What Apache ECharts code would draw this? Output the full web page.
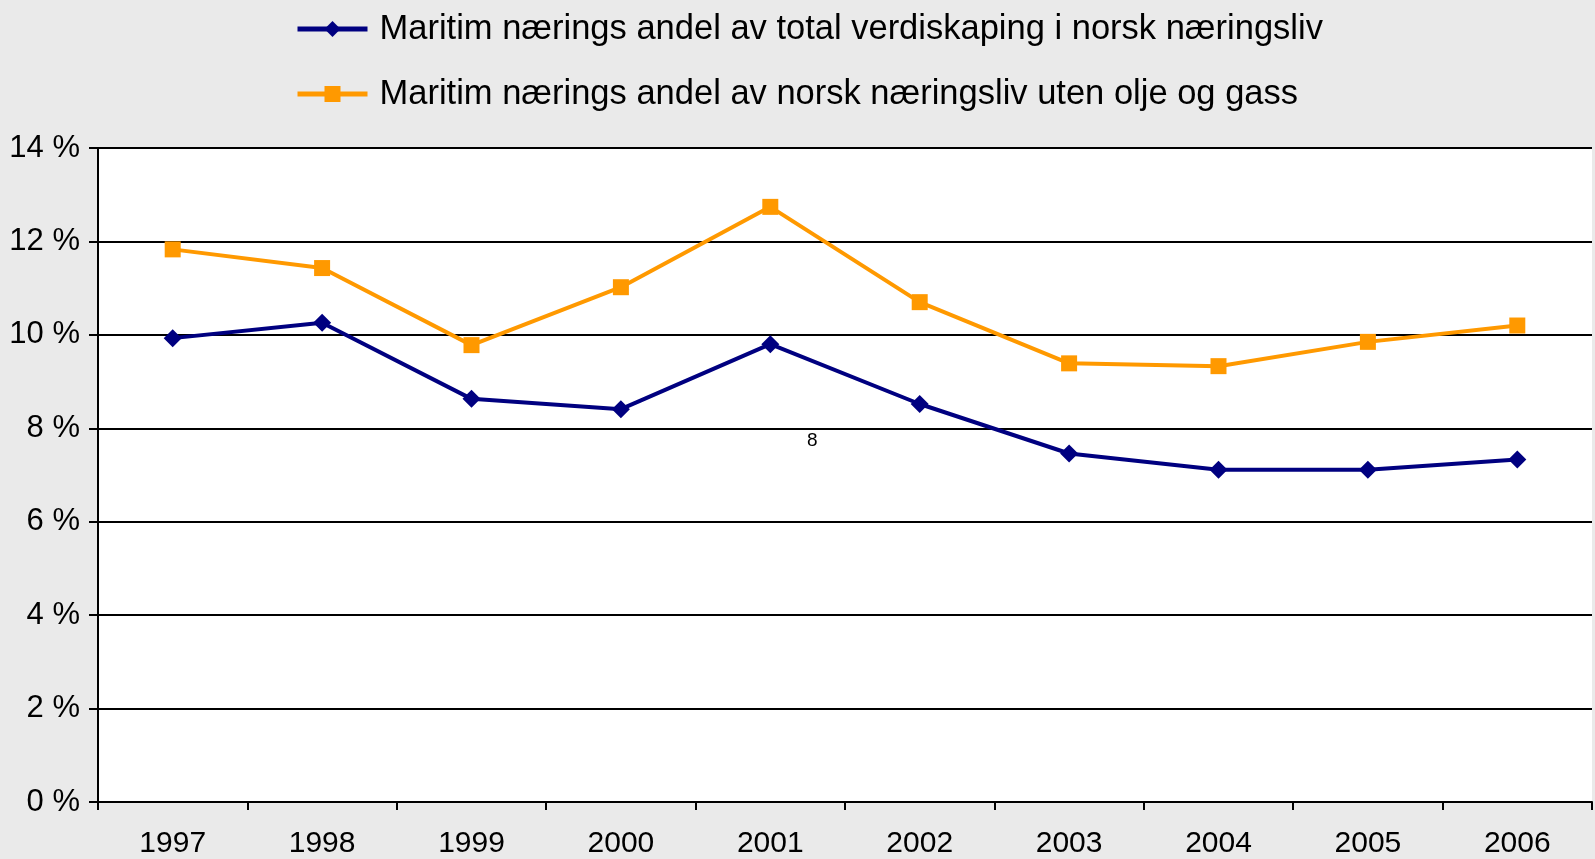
<!DOCTYPE html>
<html>
<head>
<meta charset="utf-8">
<script src="https://cdn.jsdelivr.net/npm/echarts@6/dist/echarts.min.js"></script>
<style>
html,body{margin:0;padding:0;background:#eaeaea;}
#c{width:1595px;height:859px;}
</style>
</head>
<body>
<div id="c"></div>
<script>
var years = ['1997','1998','1999','2000','2001','2002','2003','2004','2005','2006'];
var seriesNames = [
  'Maritim nærings andel av total verdiskaping i norsk næringsliv',
  'Maritim nærings andel av norsk næringsliv uten olje og gass'
];
var totalShare = [9.93, 10.26, 8.63, 8.41, 9.80, 8.52, 7.46, 7.11, 7.11, 7.33];
var exOilShare = [11.83, 11.43, 9.78, 11.02, 12.74, 10.70, 9.39, 9.33, 9.85, 10.20];
var yTicks = [0, 2, 4, 6, 8, 10, 12, 14];

var FONT = "'Liberation Sans', Arial, sans-serif";
var chart = echarts.init(document.getElementById('c'));
chart.setOption({
  backgroundColor: '#eaeaea',
  animation: false,
  legend: {
    orient: 'vertical',
    left: 295,
    top: 9,
    padding: 0,
    itemWidth: 70,
    itemHeight: 20,
    itemGap: 25,
    lineStyle: { width: 5 },
    textStyle: { fontFamily: FONT, fontSize: 34.5, color: '#000', lineHeight: 40, padding: [0,0,0,7] },
    data: seriesNames
  },
  grid: {
    left: 98, right: 3, top: 148, bottom: 57,
    show: true, backgroundColor: '#fff', borderWidth: 0
  },
  xAxis: {
    type: 'category',
    data: years,
    boundaryGap: true,
    axisLine: { lineStyle: { color: '#000', width: 2 } },
    axisTick: { show: true, interval: 0, length: 8, lineStyle: { color: '#000', width: 2 } },
    axisLabel: { fontFamily: FONT, fontSize: 30, color: '#000', margin: 27, interval: 0 }
  },
  yAxis: {
    type: 'value',
    min: yTicks[0], max: yTicks[yTicks.length - 1], interval: 2,
    axisLine: { show: true, lineStyle: { color: '#000', width: 2 } },
    axisTick: { show: true, length: 9, lineStyle: { color: '#000', width: 2 } },
    axisLabel: { fontFamily: FONT, fontSize: 31, color: '#000', margin: 18, formatter: '{value} %' },
    splitLine: { show: true, lineStyle: { color: '#000', width: 2 } }
  },
  series: [
    {
      name: seriesNames[0], type: 'line', data: totalShare,
      symbol: 'diamond', symbolSize: 18, showAllSymbol: true,
      itemStyle: { color: '#000080' },
      lineStyle: { color: '#000080', width: 4 }
    },
    {
      name: seriesNames[1], type: 'line', data: exOilShare,
      symbol: 'rect', symbolSize: 16, showAllSymbol: true,
      itemStyle: { color: '#FF9900', borderRadius: 2 },
      lineStyle: { color: '#FF9900', width: 4 }
    }
  ],
  graphic: [
    { type: 'text', left: 807, top: 431, style: { text: '8', font: "19px 'Liberation Sans', Arial, sans-serif", fill: '#000' } }
  ]
});
</script>
</body>
</html>
